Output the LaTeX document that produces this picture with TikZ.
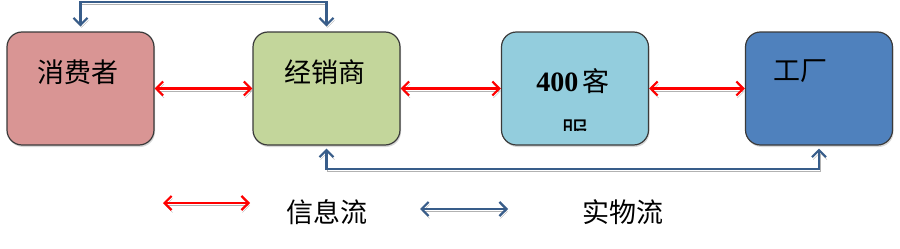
\documentclass[tikz,border=0pt]{standalone}
\usepackage{fontspec}
\newfontfamily\cjk{Noto Sans CJK SC}
\newfontfamily\tnr{Liberation Serif}
\usetikzlibrary{arrows.meta,shadows,calc}
\definecolor{pinkf}{HTML}{D99594}
\definecolor{greenf}{HTML}{C3D69B}
\definecolor{cyanf}{HTML}{93CDDD}
\definecolor{bluef}{HTML}{4F81BD}
\definecolor{edgec}{HTML}{3A3A3A}
\definecolor{flowblue}{HTML}{385D8A}
\begin{document}
\begin{tikzpicture}[x=1pt,y=-1pt,
  box/.style={draw=edgec, line width=1.2pt, rounded corners=15pt,
    minimum width=147pt, minimum height=113pt, inner sep=0pt,
    drop shadow={shadow xshift=1pt, shadow yshift=-2pt, opacity=0.3}},
  lbl/.style={font=\cjk\fontsize{27}{31}\selectfont, inner sep=0pt, text=black},
  lineshadow/.style={preaction={draw=black!30, transform canvas={shift={(1pt,-2.5pt)}}}},
  tip/.style={Straight Barb[length=7pt,width=14pt,line width=2pt]},
  redarr/.style={draw=red, line width=2.2pt, lineshadow,
    {Straight Barb[length=7pt,width=14pt]}-{Straight Barb[length=7pt,width=14pt]}},
  bluearr/.style={draw=flowblue, line width=2.2pt, lineshadow,
    {Straight Barb[length=7pt,width=14pt]}-{Straight Barb[length=7pt,width=14pt]}}
]
\useasboundingbox (0,0) rectangle (900,249);

% boxes
\node[box, fill=pinkf]  (xf) at (80.5,88.5) {};
\node[box, fill=greenf] (jx) at (326.5,88.5) {};
\node[box, fill=cyanf]  (kf) at (575,88.5) {};
\node[box, fill=bluef]  (gc) at (819,88.5) {};

% labels
\node[lbl] (txf) at (78,72) {消费者};
\node[lbl] (tjx) at (325,72) {经销商};
\node[lbl, anchor=base] (tkf) at (573,91) {{\tnr\bfseries\fontsize{28}{30}\selectfont 400}\,客};
\begin{scope}
  \clip (540,118) rectangle (610,130);
  \node[lbl, anchor=north] (tkf2) at (575,120) {服};
\end{scope}
\node[lbl] (tgc) at (800,71) {工厂};

% information flow (red)
\draw[redarr] (xf.east) -- (jx.west);
\draw[redarr] (jx.east) -- (kf.west);
\draw[redarr] (kf.east) -- (gc.west);

% physical flow (blue)
\coordinate (topy) at (0,2);
\coordinate (boty) at (0,169);
\draw[bluearr, shorten <=5pt, shorten >=5pt]
  (xf.north) -- (xf.north |- topy) -- (jx.north |- topy) -- (jx.north);
\draw[bluearr, shorten <=3pt, shorten >=3pt]
  (jx.south) -- (jx.south |- boty) -- (gc.south |- boty) -- (gc.south);

% legend
\coordinate (lr1) at (163,203);
\coordinate (lr2) at (250,203);
\draw[redarr] (lr1) -- (lr2);
\node[lbl] (tinfo) at (327,212) {信息流};
\coordinate (lb1) at (420,209);
\coordinate (lb2) at (508,209);
\draw[bluearr] (lb1) -- (lb2);
\node[lbl] (tphys) at (623,212) {实物流};
\end{tikzpicture}
\end{document}
